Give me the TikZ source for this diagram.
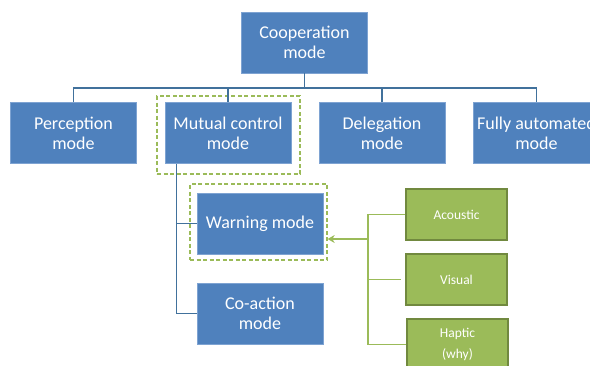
\documentclass[tikz,border=0pt]{standalone}
\usepackage{fontspec}
\setmainfont{Carlito}
\usetikzlibrary{arrows.meta}
\definecolor{bfill}{HTML}{4F81BD}
\definecolor{bedge}{HTML}{7EA3D2}
\definecolor{bline}{HTML}{41719C}
\definecolor{gfill}{HTML}{9BBB59}
\definecolor{gedge}{HTML}{71893F}
\definecolor{gline}{HTML}{9BBB59}
\tikzset{
  bluebox/.style={draw=bedge, line width=0.8pt, fill=bfill, text=white, align=center,
    inner sep=0pt, minimum width=126pt, minimum height=61pt,
    font=\fontsize{18}{20}\selectfont},
  greenbox/.style={draw=gedge, line width=1.2pt, fill=gfill, text=white, align=center,
    inner sep=0pt, minimum width=101pt, minimum height=51pt,
    font=\fontsize{13.5}{21}\selectfont},
  dashframe/.style={draw=gline, dashed, line width=1.3pt, dash pattern=on 4pt off 2.5pt,
    inner sep=0pt},
  bconn/.style={draw=bline, line width=1.4pt},
  gconn/.style={draw=gline, line width=1.6pt},
}
\begin{document}
\begin{tikzpicture}[x=1pt,y=-1pt]
\useasboundingbox (0,0) rectangle (590,365);
\clip (0,0) rectangle (590,365);
% frames
\node[dashframe, minimum width=143pt, minimum height=78pt] (mframe) at (228.5,135) {};
\node[dashframe, minimum width=137pt, minimum height=76pt] (wframe) at (258.5,222) {};
% blue boxes
\node[bluebox] (coop) at (304.5,42.5) {Cooperation\\mode};
\node[bluebox] (perc) at (73.5,133) {Perception\\mode};
\node[bluebox] (mut) at (228,133) {Mutual control\\mode};
\node[bluebox] (deleg) at (382,133) {Delegation\\mode};
\node[bluebox] (fully) at (536.5,133) {Fully automated\\mode};
\node[bluebox] (warn) at (260,223.5) {Warning mode};
\node[bluebox] (coact) at (260,313.5) {Co-action\\mode};
% green boxes
\node[greenbox] (acou) at (456.5,214.5) {Acoustic};
\node[greenbox] (vis) at (456.5,279.5) {Visual};
\node[greenbox] (hapt) at (457.5,344.5) {Haptic\\(why)};
% blue connectors
\coordinate (bus) at (304.5,88);
\draw[bconn] (coop.south) -- (bus);
\draw[bconn] (perc.north) |- (bus) -| (fully.north);
\draw[bconn] (mut.north) -- (mut.north |- bus);
\draw[bconn] (deleg.north) -- (deleg.north |- bus);
\coordinate (mtap) at ([xshift=12pt]mut.south west);
\draw[bconn] (mtap) |- (coact.west);
\draw[bconn] (mtap |- warn.west) -- (warn.west);
% green connectors
\coordinate (hub) at (368,239);
\draw[gconn] (acou.west) -- (acou.west -| hub) -- (hapt.west -| hub) -- (hapt.west);
\draw[gconn] (vis.west -| hub) -- ([xshift=-4pt]vis.west);
\draw[gconn, -{Stealth[length=7pt,width=8pt]}] (hub) -- (hub -| wframe.east);
\end{tikzpicture}
\end{document}
